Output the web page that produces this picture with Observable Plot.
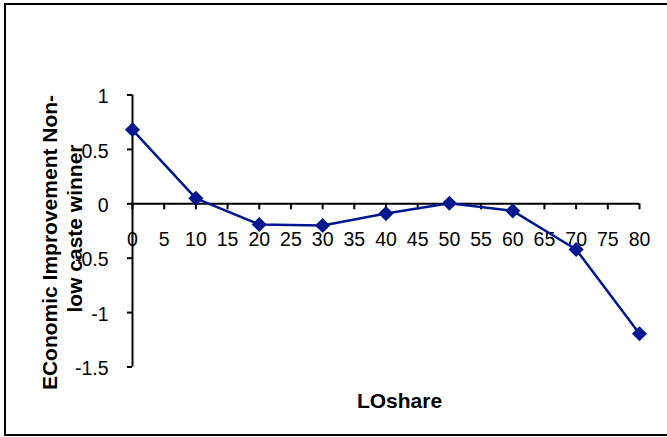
<!DOCTYPE html>
<html>
<head>
<meta charset="utf-8">
<script src="https://cdn.jsdelivr.net/npm/d3@7"></script>
<script src="https://cdn.jsdelivr.net/npm/@observablehq/plot@0.6"></script>
<style>
  html, body { margin: 0; padding: 0; background: white; overflow: hidden; }
  #wrap { position: relative; width: 667px; height: 437px; }
  #border { position: absolute; left: 4px; top: 3px; width: 720px; height: 429px;
            border: 2px solid black; border-right: none; pointer-events: none; }
</style>
</head>
<body>
<div id="wrap"><div id="chart"></div><div id="border"></div></div>
<script>
// Data
const loShare = [0, 10, 20, 30, 40, 50, 60, 70, 80];
const improvement = [0.68, 0.05, -0.19, -0.2, -0.09, 0.005, -0.065, -0.42, -1.195];
// Tick labels
const xTicks = [0, 5, 10, 15, 20, 25, 30, 35, 40, 45, 50, 55, 60, 65, 70, 75, 80];
const yTicks = [1, 0.5, 0, -0.5, -1, -1.5];
const yTitleLine1 = "EConomic Improvement Non-";
const yTitleLine2 = "low caste winner";
const xTitle = "LOshare";

const data = loShare.map((x, i) => ({x, y: improvement[i]}));
const color = "#00188F";

const chart = Plot.plot({
  width: 667,
  height: 437,
  marginLeft: 132,
  marginRight: 28,
  marginTop: 94.5,
  marginBottom: 70.5,
  x: {domain: [0, 80], axis: null},
  y: {domain: [-1.5, 1], axis: null},
  style: {fontFamily: "'Liberation Sans', Arial, sans-serif", background: "white", color: "black"},
  marks: [
    // axis lines
    Plot.ruleX([0], {x: d => d, stroke: "black", strokeWidth: 2}),
    Plot.ruleY([0], {y: d => d, stroke: "black", strokeWidth: 2}),
    // x ticks hanging below the zero line
    Plot.ruleX(xTicks, {x: d => d, y1: () => 0, y2: () => 0, insetTop: 0, insetBottom: -6, stroke: "black", strokeWidth: 2}),
    // y ticks
    Plot.ruleY(yTicks, {y: d => d, x1: () => 0, x2: () => 0, insetLeft: -5, insetRight: 0, stroke: "black", strokeWidth: 2}),
    // x tick labels
    Plot.text(xTicks, {x: d => d, y: () => 0, text: d => String(d), dy: 36, fontSize: 19.5, fill: "black", textAnchor: "middle", lineAnchor: "middle"}),
    // y tick labels
    Plot.text(yTicks, {y: d => d, frameAnchor: "left", text: d => String(d), dx: -24, dy: 2, fontSize: 19.5, fill: "black", textAnchor: "end", lineAnchor: "middle"}),
    // series
    Plot.line(data, {x: "x", y: "y", stroke: color, strokeWidth: 2.5}),
    Plot.dot(data, {x: "x", y: "y", symbol: "diamond2", r: 6.8, fill: color, stroke: "none"}),
    // titles
    Plot.text([yTitleLine1], {text: d => d, frameAnchor: "left", rotate: -90, dx: -82, dy: 11.5, fontSize: 21, fontWeight: "bold", fill: "black", textAnchor: "middle", lineAnchor: "middle"}),
    Plot.text([yTitleLine2], {text: d => d, frameAnchor: "left", rotate: -90, dx: -57, dy: -2.5, fontSize: 21, fontWeight: "bold", fill: "black", textAnchor: "middle", lineAnchor: "middle"}),
    Plot.text([xTitle], {text: d => d, frameAnchor: "bottom", dx: 13.5, dy: 34, fontSize: 21, fontWeight: "bold", fill: "black", textAnchor: "middle", lineAnchor: "middle"})
  ]
});
document.getElementById("chart").appendChild(chart);
</script>
</body>
</html>
